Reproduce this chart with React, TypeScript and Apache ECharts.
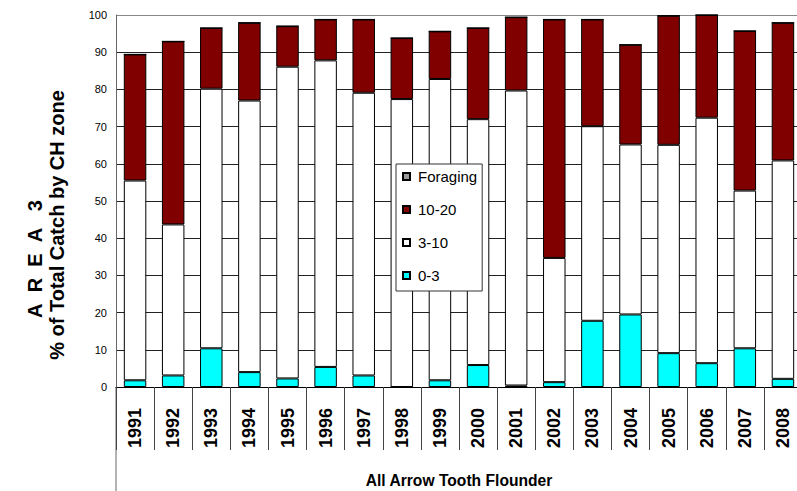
import React, { useEffect, useRef } from "react";
import * as echarts from "echarts";

const years = ["1991", "1992", "1993", "1994", "1995", "1996", "1997", "1998", "1999", "2000", "2001", "2002", "2003", "2004", "2005", "2006", "2007", "2008"];
const zone0to3 = [1.8, 3.1, 10.4, 4.0, 2.3, 5.4, 3.1, 0, 1.8, 5.9, 0.4, 1.3, 17.8, 19.5, 9.1, 6.4, 10.4, 2.2];
const zone3to10 = [53.7, 40.6, 69.8, 73.0, 83.8, 82.4, 76.0, 77.4, 81.0, 66.1, 79.3, 33.4, 52.3, 45.7, 56.0, 66.0, 42.4, 58.7];
const zone10to20 = [33.9, 49.2, 16.3, 20.9, 10.9, 11.0, 19.7, 16.4, 12.8, 24.5, 19.7, 64.1, 28.7, 26.8, 34.7, 27.6, 42.9, 37.0];
const foragingZone = [0, 0, 0, 0, 0, 0, 0, 0, 0, 0, 0, 0, 0, 0, 0, 0, 0, 0];
const legendOrder = ["Foraging", "10-20", "3-10", "0-3"];
const yTitleLine1 = "A\u00a0\u00a0R\u00a0\u00a0E\u00a0\u00a0A\u00a0\u00a0\u00a03";
const yTitleLine2 = "% of Total Catch by CH zone";
const xTitle = "All Arrow Tooth Flounder";

const FONT = "'Liberation Sans', Arial, sans-serif";

export default function App() {
  const ref = useRef<HTMLDivElement>(null);
  useEffect(() => {
    if (!ref.current) return;
    const chart = echarts.init(ref.current, null, { renderer: "svg" });
    const bar = (name: string, data: number[], color: string) => ({
      name,
      type: "bar",
      stack: "total",
      data,
      barWidth: "59%",
      itemStyle: { color, borderColor: "#000", borderWidth: 1 },
    });
    const gridColors = ["#222", "#222", "#222", "#222", "#222", "#222", "#222", "#222", "#222", "#222", "#888"];
    chart.setOption({
      animation: false,
      backgroundColor: "#fff",
      grid: { left: 116, top: 15, right: -5, bottom: 104, containLabel: false, outerBoundsMode: "none" },
      legend: {
        data: legendOrder,
        orient: "vertical",
        left: 396,
        top: 164,
        itemWidth: 7,
        itemHeight: 7,
        itemGap: 18,
        padding: [5, 5, 8, 6],
        backgroundColor: "#fff",
        borderColor: "#333",
        borderWidth: 1,
        borderRadius: 0,
        icon: "rect",
        textStyle: { fontFamily: FONT, fontSize: 15, color: "#000", padding: [0, 0, 0, 3] },
      },
      xAxis: {
        type: "category",
        data: years,
        boundaryGap: true,
        axisLine: { show: true, lineStyle: { color: "#000", width: 1 } },
        axisTick: { show: true, length: 63, lineStyle: { color: "#444", width: 1 } },
        axisLabel: {
          rotate: 90,
          margin: 21,
          fontFamily: FONT,
          fontWeight: "bold",
          fontSize: 18,
          color: "#000",
        },
      },
      yAxis: {
        type: "value",
        min: 0,
        max: 100,
        interval: 10,
        axisLine: { show: true, lineStyle: { color: "#666", width: 1 } },
        axisTick: { show: false },
        axisLabel: { margin: 9, fontFamily: FONT, fontSize: 11, color: "#000" },
        splitLine: { show: true, lineStyle: { color: gridColors, width: 1 } },
      },
      series: [
        bar("0-3", zone0to3, "#00ffff"),
        bar("3-10", zone3to10, "#ffffff"),
        bar("10-20", zone10to20, "#800000"),
        bar("Foraging", foragingZone, "#999999"),
      ],
      graphic: [
        { type: "line", shape: { x1: 116, y1: 387, x2: 116, y2: 491 }, style: { stroke: "#666", lineWidth: 1 } },
        {
          type: "text",
          x: 459,
          y: 480,
          scaleX: 0.92,
          style: { text: xTitle, font: `bold 17px ${FONT}`, fill: "#000", textAlign: "center", textVerticalAlign: "middle" },
        },
        {
          type: "text",
          x: 35,
          y: 259,
          rotation: Math.PI / 2,
          style: { text: yTitleLine1, font: `bold 20px ${FONT}`, fill: "#000", textAlign: "center", textVerticalAlign: "middle" },
        },
        {
          type: "text",
          x: 57,
          y: 225,
          rotation: Math.PI / 2,
          style: { text: yTitleLine2, font: `bold 20px ${FONT}`, fill: "#000", textAlign: "center", textVerticalAlign: "middle" },
        },
      ],
    });
    return () => chart.dispose();
  }, []);
  return <div ref={ref} style={{ position: "absolute", left: 0, top: 0, width: 797, height: 491 }} />;
}
